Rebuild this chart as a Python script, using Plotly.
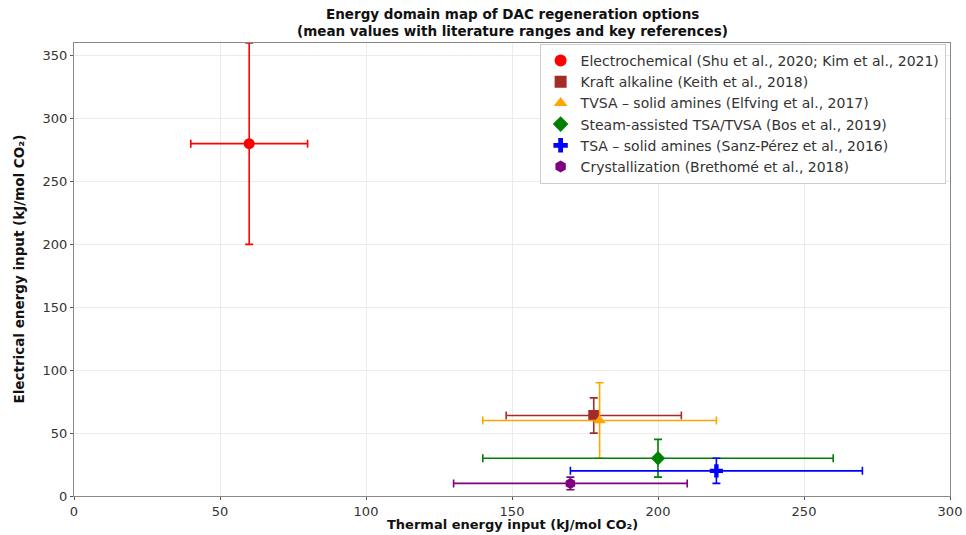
import plotly.graph_objects as go

# Regeneration options: mean thermal / electrical energy and literature ranges (kJ/mol CO2)
labels = [
    "Electrochemical (Shu et al., 2020; Kim et al., 2021)",
    "Kraft alkaline (Keith et al., 2018)",
    "TVSA – solid amines (Elfving et al., 2017)",
    "Steam-assisted TSA/TVSA (Bos et al., 2019)",
    "TSA – solid amines (Sanz-Pérez et al., 2016)",
    "Crystallization (Brethomé et al., 2018)",
]
thermal_mean = [60, 178, 180, 200, 220, 170]
thermal_err = [20, 30, 40, 60, 50, 40]
electrical_mean = [280, 64, 60, 30, 20, 10]
electrical_err = [80, 14, 30, 15, 10, 5]

colors = ["#ff0000", "#a52a2a", "#ffa500", "#008000", "#0000ff", "#800080"]
symbols = ["circle", "square", "triangle-up", "diamond", "cross", "hexagon"]

x_ticks = [0, 50, 100, 150, 200, 250, 300]
y_ticks = [0, 50, 100, 150, 200, 250, 300, 350]

title_lines = [
    "Energy domain map of DAC regeneration options",
    "(mean values with literature ranges and key references)",
]
x_title = "Thermal energy input (kJ/mol CO₂)"
y_title = "Electrical energy input (kJ/mol CO₂)"

fig = go.Figure()
for i, name in enumerate(labels):
    fig.add_trace(go.Scatter(
        x=[thermal_mean[i]],
        y=[electrical_mean[i]],
        mode="markers",
        name=name,
        marker=dict(symbol=symbols[i], size=11, color=colors[i]),
        error_x=dict(type="data", array=[thermal_err[i]], color=colors[i],
                     thickness=1.6, width=4),
        error_y=dict(type="data", array=[electrical_err[i]], color=colors[i],
                     thickness=1.6, width=4),
    ))

axis_common = dict(
    showline=True, linecolor="#888888", linewidth=1.2, mirror=True,
    showgrid=True, gridcolor="#ebebeb", gridwidth=1,
    ticks="outside", ticklen=3, tickcolor="#555555",
    tickfont=dict(family="DejaVu Sans", size=13, color="#333333"),
    zeroline=False, automargin=False,
)

title_font = dict(family="DejaVu Sans", size=13.5, color="#111111")

# Two-line bold title placed above the plotting area
for k, line in enumerate(title_lines):
    fig.add_annotation(
        text=f"<b>{line}</b>", xref="paper", yref="paper",
        x=0.5, y=1, xanchor="center", yanchor="middle",
        yshift=29 - 17 * k, showarrow=False, font=title_font,
    )

# Axis titles
fig.add_annotation(
    text=f"<b>{x_title}</b>", xref="paper", yref="paper",
    x=0.5, y=0, xanchor="center", yanchor="bottom",
    yshift=-38, showarrow=False,
    font=dict(family="DejaVu Sans", size=13, color="#111111"),
)
fig.add_annotation(
    text=f"<b>{y_title}</b>", xref="paper", yref="paper",
    x=0, y=0.5, xanchor="center", yanchor="middle", textangle=-90,
    xshift=-56, showarrow=False, font=title_font,
)

fig.update_layout(
    width=966, height=535,
    margin=dict(l=74, r=16, t=43, b=39),
    paper_bgcolor="white", plot_bgcolor="white",
    xaxis=dict(range=[0, 300], tickvals=x_ticks, **axis_common),
    yaxis=dict(range=[0, 360], tickvals=y_ticks, **axis_common),
    legend=dict(
        x=0.995, y=0.998, xanchor="right", yanchor="top",
        bgcolor="rgba(255,255,255,0.9)", bordercolor="#cccccc", borderwidth=1,
        font=dict(family="DejaVu Sans", size=14, color="#333333"),
        tracegroupgap=0, itemsizing="constant",
    ),
    showlegend=True,
)

fig.write_html("out.html")
